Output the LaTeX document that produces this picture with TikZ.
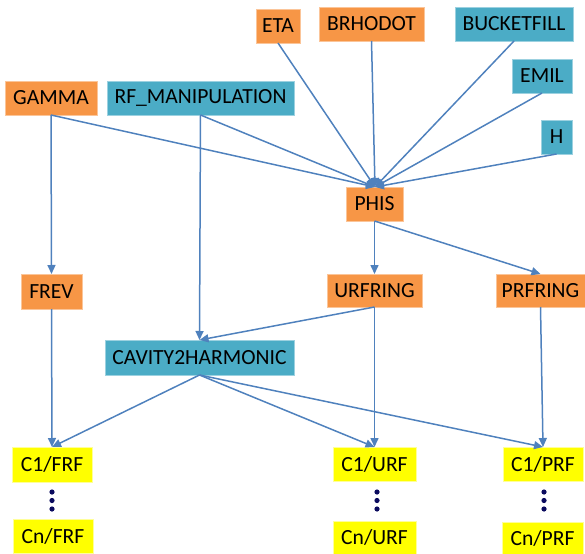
\documentclass[tikz,border=0pt]{standalone}
\usepackage{fontspec}
\setmainfont{Carlito}
\usetikzlibrary{arrows.meta}
\definecolor{boxor}{HTML}{F79646}
\definecolor{boxaq}{HTML}{4BACC6}
\definecolor{boxye}{HTML}{FFFF00}
\definecolor{lnblue}{HTML}{4F81BD}
\definecolor{dotnavy}{HTML}{0A0A5E}
\tikzset{
  bx/.style={inner sep=0pt, outer sep=0pt, line width=0.8pt, font=\fontsize{21.6}{24}\selectfont},
  orb/.style={bx, fill=boxor, draw=boxor!55!white},
  aqb/.style={bx, fill=boxaq, draw=boxaq!55!white},
  yeb/.style={bx, fill=boxye, draw=boxye!40!white},
  conn/.style={draw=lnblue, line width=1.5pt, -{Triangle[length=9pt,width=8pt]}},
  vdot/.style={fill=dotnavy, draw=none}
}
\begin{document}
\begin{tikzpicture}[x=1pt,y=-1pt]
\useasboundingbox (0,0) rectangle (585,553);
% top row
\node[orb, minimum width=44pt, minimum height=34pt] (eta) at (278,26) {ETA};
\node[orb, minimum width=105pt, minimum height=34pt] (brho) at (371.5,24) {BRHODOT};
\node[aqb, minimum width=118pt, minimum height=34pt] (bucket) at (514,24) {BUCKETFILL};
\node[aqb, minimum width=60pt, minimum height=34pt] (emil) at (542,76) {EMIL};
\node[aqb, minimum width=31pt, minimum height=34pt] (h) at (556.5,137) {H};
\node[orb, minimum width=92pt, minimum height=34pt] (gamma) at (51,98) {GAMMA};
\node[aqb, minimum width=187pt, minimum height=34pt] (rfm) at (200.5,98) {RF\_MANIPULATION};
\node[orb, minimum width=57pt, minimum height=34pt] (phis) at (374.5,204) {PHIS};
% middle
\node[orb, minimum width=61pt, minimum height=35pt] (frev) at (51.5,291.5) {FREV};
\node[orb, minimum width=95pt, minimum height=33pt] (urf) at (374.5,290.5) {URFRING};
\node[orb, minimum width=89pt, minimum height=33pt] (prf) at (540.5,290.5) {PRFRING};
\node[aqb, minimum width=189pt, minimum height=35pt] (cav) at (199.5,357.5) {CAVITY2HARMONIC};
% bottom
\node[yeb, minimum width=80pt, minimum height=35pt] (c1f) at (52,464.5) {C1/FRF};
\node[yeb, minimum width=80pt, minimum height=34pt] (cnf) at (53,536) {Cn/FRF};
\node[yeb, minimum width=83pt, minimum height=34pt] (c1u) at (374.5,464) {C1/URF};
\node[yeb, minimum width=83pt, minimum height=33pt] (cnu) at (374.5,537.5) {Cn/URF};
\node[yeb, minimum width=80pt, minimum height=34pt] (c1p) at (543,464) {C1/PRF};
\node[yeb, minimum width=81pt, minimum height=32pt] (cnp) at (542.5,538) {Cn/PRF};
% dots
\foreach \xx in {52,377,544}{
  \foreach \yy in {492,500.5,509}{
    \fill[vdot] (\xx,\yy) circle (2.6pt);
  }
}
% connectors
\coordinate (phistop) at (375,187);
\draw[conn] (gamma.south) -- (phistop);
\draw[conn] (rfm.south) -- (phistop);
\draw[conn] (eta.south) -- (phistop);
\draw[conn] (brho.south) -- (phistop);
\draw[conn] (bucket.south) -- (phistop);
\draw[conn] (emil.south) -- (phistop);
\draw[conn] (h.south) -- (phistop);
\draw[conn] (gamma.south) -- (frev.north);
\draw[conn] (rfm.south) -- (cav.north);
\draw[conn] (phis.south) -- (urf.north);
\draw[conn] (phis.south) -- (prf.north);
\draw[conn] (urf.south) -- (cav.north);
\draw[conn] (urf.south) -- (c1u.north);
\draw[conn] (prf.south) -- (c1p.north);
\draw[conn] (frev.south) -- (c1f.north);
\draw[conn] (cav.south) -- (c1f.north);
\draw[conn] (cav.south) -- (c1u.north);
\draw[conn] (cav.south) -- (c1p.north);
\end{tikzpicture}
\end{document}
